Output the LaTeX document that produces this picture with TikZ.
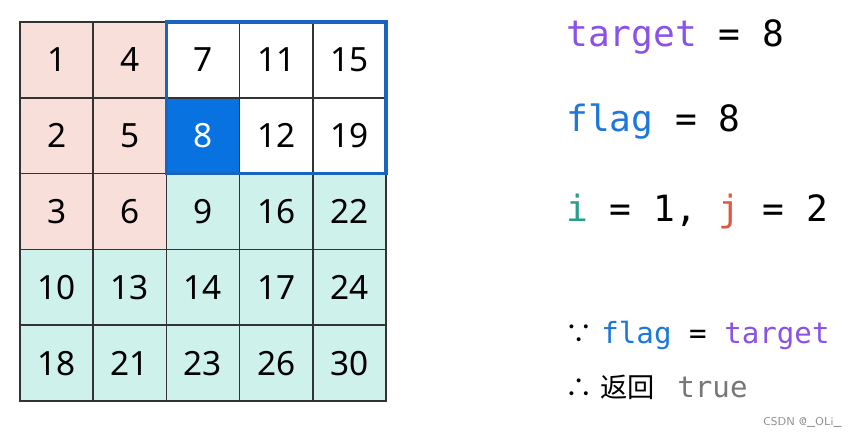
\documentclass[tikz,border=0pt]{standalone}
\usepackage{fontspec}
\setmainfont{Noto Sans}
\setmonofont{DejaVu Sans Mono}
\newfontfamily\cjkfont{Noto Sans CJK SC}
\usetikzlibrary{positioning}

\definecolor{pinkbg}{HTML}{F9DFD9}
\definecolor{tealbg}{HTML}{CFF1EC}
\definecolor{hitbg}{HTML}{0873E0}
\definecolor{framec}{HTML}{1A64BE}
\definecolor{targetc}{HTML}{8A52E8}
\definecolor{flagc}{HTML}{1C78DA}
\definecolor{ic}{HTML}{2A9D8F}
\definecolor{jc}{HTML}{E2583C}
\definecolor{truec}{HTML}{777777}

\begin{document}
\begin{tikzpicture}[
  x=0.02cm,y=-0.02cm,
  cell/.style={rectangle,draw=black!80,line width=0.8pt,minimum width=1.464cm,minimum height=1.516cm,inner sep=0pt,outer sep=0pt,font=\fontsize{19}{19}\selectfont},
  pinkcell/.style={cell,fill=pinkbg},
  tealcell/.style={cell,fill=tealbg},
  plaincell/.style={cell,fill=white},
  hitcell/.style={cell,fill=hitbg,text=white},
  frame/.style={draw=framec,line width=2pt},
  code/.style={anchor=base west,inner sep=0pt,font=\ttfamily\fontsize{20.6}{20.6}\selectfont},
  smallcode/.style={anchor=base west,inner sep=0pt,font=\ttfamily\fontsize{16.6}{16.6}\selectfont},
  cjk/.style={anchor=base west,inner sep=0pt,font=\cjkfont\fontsize{15.5}{15.5}\selectfont},
]
\useasboundingbox (0,0) rectangle (860,436);

% matrix, row by row
\foreach \v/\sty [count=\i from 0] in {
  1/pinkcell,4/pinkcell,7/plaincell,11/plaincell,15/plaincell,
  2/pinkcell,5/pinkcell,8/hitcell,12/plaincell,19/plaincell,
  3/pinkcell,6/pinkcell,9/tealcell,16/tealcell,22/tealcell,
  10/tealcell,13/tealcell,14/tealcell,17/tealcell,24/tealcell,
  18/tealcell,21/tealcell,23/tealcell,26/tealcell,30/tealcell}{
  \pgfmathtruncatemacro\r{\i/5}
  \pgfmathtruncatemacro\c{mod(\i,5)}
  \node (cell-\r-\c) [\sty] at ({20+73.2*(\c+0.5)},{22+75.8*(\r+0.5)}) {\v};
}
\draw[frame] (cell-0-2.north west) rectangle (cell-1-4.south east);

% state
\node (tline) [code] at (566,47) {\textcolor{targetc}{target} = 8};
\node (fline) [code] at (566,132) {\textcolor{flagc}{flag} = 8};
\node (ijline) [code] at (566,221) {\textcolor{ic}{i} = 1, \textcolor{jc}{j} = 2};

% conclusion
\node (because) [cjk] at (565,343) {∵};
\node (cond) [smallcode] at (601,343) {\textcolor{flagc}{flag} = \textcolor{targetc}{target}};
\node (therefore) [cjk] at (565,397) {∴};
\node (ret) [cjk] at (600,397) {返回};
\node (res) [smallcode,text=truec] at (677,397) {true};

\node (mark) [anchor=base east,inner sep=0pt,text=black!45,font=\sffamily\fontsize{6.5}{6.5}\selectfont] at (842,425) {CSDN @\_OLi\_};
\end{tikzpicture}
\end{document}
